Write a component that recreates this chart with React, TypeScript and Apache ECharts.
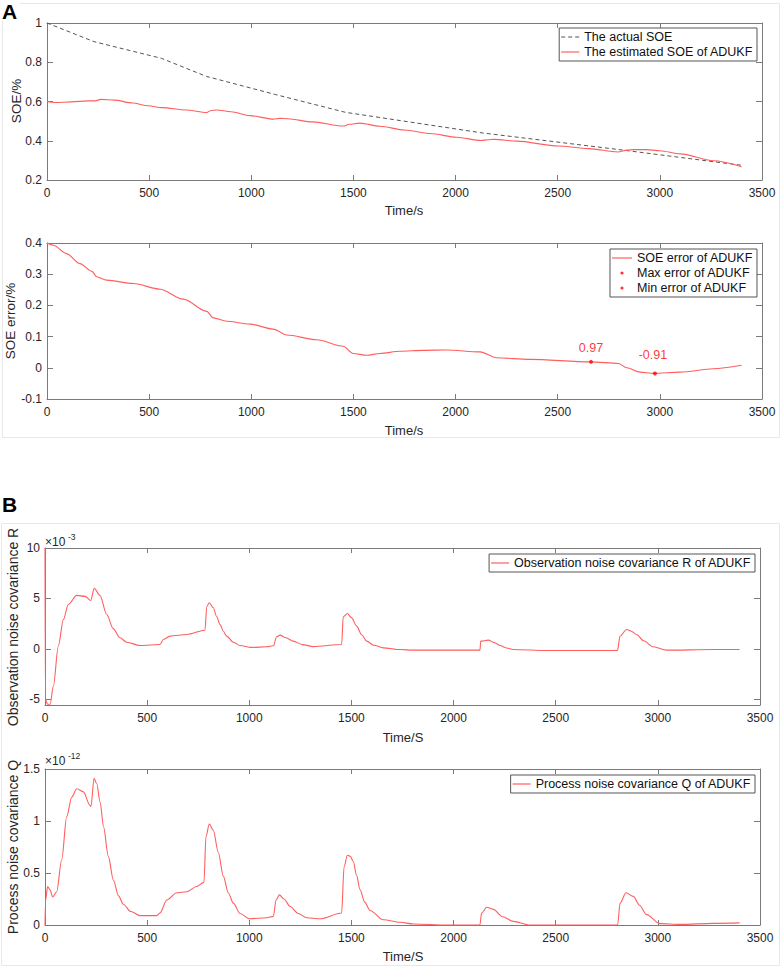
import React, { useEffect, useRef } from "react";
import * as echarts from "echarts";

const FONT = "'Liberation Sans', Arial, Helvetica, sans-serif";
const RED = "#ff5e5e";
const GRAY_DASH = "#555555";
const AX = "#7a7a7a";
const TXT = "#262626";

// ---------- X axis ----------
const xTickLabels = [0, 500, 1000, 1500, 2000, 2500, 3000, 3500];

// ---------- Panel A, top: SOE ----------
const soeTime = [0, 230, 560, 780, 1120, 1460, 2130, 2800, 3400];
const soeActual = [1.0, 0.905, 0.82, 0.728, 0.635, 0.545, 0.44, 0.355, 0.275];

const estTime = [0, 40, 120, 200, 235, 265, 330, 420, 495, 562, 680, 782, 800, 830, 900, 994, 1108, 1140, 1180, 1300, 1450, 1480, 1530, 1630, 1750, 1875, 2005, 2125, 2160, 2190, 2300, 2503, 2650, 2795, 2840, 2870, 2935, 3000, 3100, 3262, 3400];
const estSoe = [0.600, 0.595, 0.598, 0.603, 0.603, 0.611, 0.607, 0.592, 0.578, 0.569, 0.557, 0.544, 0.553, 0.557, 0.548, 0.528, 0.510, 0.514, 0.512, 0.496, 0.475, 0.484, 0.490, 0.474, 0.455, 0.437, 0.418, 0.401, 0.405, 0.407, 0.398, 0.373, 0.360, 0.343, 0.352, 0.355, 0.355, 0.349, 0.333, 0.298, 0.268];
const soeTicks = [0.2, 0.4, 0.6, 0.8, 1];

// ---------- Panel A, bottom: SOE error ----------
const errTime = [0, 31, 96, 161, 219, 243, 292, 423, 553, 667, 782, 814, 880, 994, 1108, 1173, 1320, 1450, 1499, 1565, 1630, 1728, 1842, 1956, 2120, 2201, 2364, 2661, 2797, 2838, 2903, 2968, 3099, 3262, 3400];
const errVal = [0.4, 0.393, 0.366, 0.334, 0.31, 0.292, 0.281, 0.27, 0.252, 0.22, 0.181, 0.16, 0.149, 0.14, 0.124, 0.105, 0.09, 0.069, 0.046, 0.04, 0.046, 0.053, 0.056, 0.057, 0.051, 0.032, 0.027, 0.019, 0.014, 0.0, -0.014, -0.018, -0.014, -0.003, 0.008];
const maxErrPoint = [2663, 0.019];
const minErrPoint = [2976, -0.018];
const maxErrLabel = "0.97";
const minErrLabel = "-0.91";
const errTicks = [-0.1, 0, 0.1, 0.2, 0.3, 0.4];

// ---------- Panel B, top: R (x 1e-3) ----------
const rTime = [0, 2, 12, 25, 41, 65, 90, 114, 155, 196, 224, 241, 269, 302, 334, 367, 400, 465, 563, 579, 612, 694, 783, 792, 804, 824, 840, 857, 873, 889, 922, 955, 1010, 1085, 1118, 1134, 1150, 1180, 1215, 1260, 1313, 1452, 1460, 1480, 1500, 1526, 1550, 1575, 1610, 1656, 1738, 1803, 2129, 2133, 2170, 2200, 2227, 2260, 2292, 2456, 2802, 2815, 2847, 2870, 2896, 2930, 2978, 3043, 3271, 3400];
const rVal = [10, -5, -5.5, -5.5, -3.7, 0.26, 2.9, 4.4, 5.3, 5.2, 4.8, 6.0, 5.3, 3.4, 2.0, 1.1, 0.65, 0.33, 0.43, 0.93, 1.26, 1.42, 1.85, 4.2, 4.57, 4.07, 3.2, 2.4, 1.75, 1.26, 0.66, 0.33, 0.14, 0.2, 0.3, 1.2, 1.36, 1.1, 0.76, 0.42, 0.22, 0.43, 3.2, 3.5, 3.1, 2.25, 1.4, 0.76, 0.35, 0.1, -0.07, -0.13, -0.13, 0.76, 0.86, 0.62, 0.33, 0.08, -0.07, -0.17, -0.17, 1.26, 1.92, 1.75, 1.42, 0.8, 0.2, -0.13, -0.07, -0.07];
const rTicks = [-5, 0, 5, 10];

// ---------- Panel B, bottom: Q (x 1e-12) ----------
const qTime = [0, 3, 13, 24, 38, 57, 82, 106, 131, 155, 188, 220, 225, 240, 253, 270, 286, 310, 335, 360, 383, 420, 465, 547, 563, 596, 645, 694, 742, 778, 788, 804, 824, 848, 873, 897, 922, 955, 1000, 1085, 1118, 1131, 1147, 1170, 1199, 1240, 1281, 1346, 1452, 1464, 1480, 1495, 1509, 1525, 1542, 1565, 1591, 1656, 1738, 1803, 1966, 2129, 2137, 2162, 2195, 2240, 2292, 2374, 2803, 2815, 2844, 2880, 2910, 2945, 3010, 3108, 3271, 3400];
const qVal = [0, 0.24, 0.37, 0.34, 0.27, 0.32, 0.63, 1.04, 1.23, 1.31, 1.28, 1.15, 1.14, 1.41, 1.36, 1.18, 0.95, 0.66, 0.43, 0.28, 0.2, 0.13, 0.09, 0.09, 0.115, 0.24, 0.31, 0.32, 0.37, 0.41, 0.85, 0.97, 0.91, 0.7, 0.47, 0.31, 0.21, 0.11, 0.06, 0.07, 0.083, 0.24, 0.29, 0.25, 0.18, 0.11, 0.07, 0.06, 0.115, 0.56, 0.67, 0.66, 0.61, 0.48, 0.34, 0.22, 0.14, 0.05, 0.026, 0.01, 0, 0, 0.115, 0.17, 0.15, 0.08, 0.035, 0, 0, 0.21, 0.31, 0.275, 0.19, 0.1, 0.013, 0.006, 0.016, 0.02];
const qTicks = [0, 0.5, 1, 1.5];

const zip = (a: number[], b: number[]) => a.map((t, i) => [t, b[i]]);

type GridBox = { left: number; top: number; width: number; height: number };
const grids: GridBox[] = [
  { left: 47, top: 23, width: 715, height: 157 },
  { left: 47, top: 243, width: 715, height: 156 },
  { left: 45, top: 548, width: 715, height: 157 },
  { left: 45, top: 769, width: 715, height: 156 },
];
const yRanges = [
  { min: 0.2, max: 1, ticks: soeTicks },
  { min: -0.1, max: 0.4, ticks: errTicks },
  { min: -5.57, max: 10, ticks: rTicks },
  { min: 0, max: 1.5, ticks: qTicks },
];

function buildAxes() {
  const xAxis: any[] = [];
  const yAxis: any[] = [];
  grids.forEach((_, gi) => {
    const base = {
      gridIndex: gi,
      type: "value",
      axisLine: { show: true, onZero: false, lineStyle: { color: AX, width: 1 } },
      splitLine: { show: false },
    };
    xAxis.push({
      ...base,
      position: "bottom",
      min: 0,
      max: 3500,
      axisTick: { show: true, inside: true, length: 5, lineStyle: { color: AX }, customValues: xTickLabels },
      axisLabel: {
        show: true,
        margin: 7,
        color: TXT,
        fontSize: 12,
        fontFamily: FONT,
        customValues: xTickLabels,
        formatter: (v: number) => String(v),
      },
    });
    xAxis.push({
      ...base,
      position: "top",
      min: 0,
      max: 3500,
      axisTick: { show: true, inside: true, length: 5, lineStyle: { color: AX }, customValues: xTickLabels },
      axisLabel: { show: false },
    });
    const yr = yRanges[gi];
    yAxis.push({
      ...base,
      position: "left",
      min: yr.min,
      max: yr.max,
      axisTick: { show: true, inside: true, length: 6, lineStyle: { color: AX }, customValues: yr.ticks },
      axisLabel: {
        show: true,
        margin: 5,
        color: TXT,
        fontSize: 12,
        fontFamily: FONT,
        customValues: yr.ticks,
        formatter: (v: number) => String(v),
      },
    });
    yAxis.push({
      ...base,
      position: "right",
      min: yr.min,
      max: yr.max,
      axisTick: { show: true, inside: true, length: 6, lineStyle: { color: AX }, customValues: yr.ticks },
      axisLabel: { show: false },
    });
  });
  return { xAxis, yAxis };
}

const DOT_ICON = "path://M0 0M10 10M5 3A2 2 0 1 1 5 7A2 2 0 1 1 5 3Z";
const LINE_ICON_18 = "path://M0 0H18V1.2H0Z";
const LINE_ICON_20 = "path://M0 0H20V1.2H0Z";
const DASH_ICON_18 = "path://M0 0H4V1.1H0ZM7 0H11V1.1H7ZM14 0H18V1.1H14Z";

function legendBase(right: number, top: number, names: any[], itemWidth: number) {
  return {
    show: true,
    orient: "vertical",
    right,
    top,
    data: names,
    itemWidth,
    itemHeight: 8,
    itemGap: 1,
    padding: [2, 4, 2, 2],
    borderColor: "#555555",
    borderWidth: 1,
    borderRadius: 0,
    backgroundColor: "#ffffff",
    selectedMode: false,
    textStyle: { color: "#111111", fontSize: 12.5, fontFamily: FONT, lineHeight: 14 },
  };
}

function txt(x: number, y: number, text: string, fontSize: number, opts: any = {}) {
  return {
    type: "text",
    x,
    y,
    rotation: opts.rotation || 0,
    silent: true,
    z: 100,
    style: {
      text,
      fill: opts.fill || TXT,
      fontSize,
      fontFamily: FONT,
      fontWeight: opts.fontWeight || "normal",
      align: opts.align || "center",
      verticalAlign: opts.verticalAlign || "middle",
      textAlign: opts.align || "center",
      textVerticalAlign: opts.verticalAlign || "middle",
    },
  };
}

export default function App() {
  const ref = useRef<HTMLDivElement>(null);
  useEffect(() => {
    if (!ref.current) return;
    const chart = echarts.init(ref.current, undefined, { renderer: "svg" });
    const { xAxis, yAxis } = buildAxes();

    const lineCommon = { type: "line", symbol: "none", showSymbol: false, silent: true };
    const smoothCommon = { smooth: 0.3, smoothMonotone: "x" };

    const option: any = {
      animation: false,
      backgroundColor: "#ffffff",
      grid: grids.map((g) => ({ ...g, show: false })),
      xAxis,
      yAxis,
      legend: [
        legendBase(25, 28, [
          { name: "The actual SOE", icon: DASH_ICON_18 },
          { name: "The estimated SOE of ADUKF", icon: LINE_ICON_18 },
        ], 18),
        legendBase(25, 249, [
          { name: "SOE error of ADUKF", icon: LINE_ICON_20 },
          { name: "Max error of ADUKF", icon: DOT_ICON },
          { name: "Min error of ADUKF", icon: DOT_ICON },
        ], 20),
        legendBase(27, 554, [{ name: "Observation noise covariance R of ADUKF", icon: LINE_ICON_18 }], 18),
        legendBase(27, 775, [{ name: "Process noise covariance Q of ADUKF", icon: LINE_ICON_18 }], 18),
      ],
      series: [
        {
          ...lineCommon,
          name: "The actual SOE",
          xAxisIndex: 0,
          yAxisIndex: 0,
          data: zip(soeTime, soeActual),
          lineStyle: { color: GRAY_DASH, width: 1, type: [4, 3] },
          itemStyle: { color: GRAY_DASH },
        },
        {
          ...lineCommon,
          ...smoothCommon,
          name: "The estimated SOE of ADUKF",
          xAxisIndex: 0,
          yAxisIndex: 0,
          data: zip(estTime, estSoe),
          lineStyle: { color: RED, width: 1.1 },
          itemStyle: { color: RED },
        },
        {
          ...lineCommon,
          ...smoothCommon,
          name: "SOE error of ADUKF",
          xAxisIndex: 2,
          yAxisIndex: 2,
          data: zip(errTime, errVal),
          lineStyle: { color: RED, width: 1.1 },
          itemStyle: { color: RED },
        },
        {
          type: "scatter",
          name: "Max error of ADUKF",
          xAxisIndex: 2,
          yAxisIndex: 2,
          silent: true,
          symbol: "circle",
          symbolSize: 4,
          itemStyle: { color: "#ff0000" },
          data: [
            {
              value: maxErrPoint,
              label: {
                show: true,
                position: "top",
                distance: 5,
                formatter: maxErrLabel,
                color: "#ff0000",
                fontSize: 12.5,
                fontFamily: FONT,
              },
            },
          ],
          z: 5,
        },
        {
          type: "scatter",
          name: "Min error of ADUKF",
          xAxisIndex: 2,
          yAxisIndex: 2,
          silent: true,
          symbol: "circle",
          symbolSize: 4,
          itemStyle: { color: "#ff0000" },
          data: [
            {
              value: minErrPoint,
              label: {
                show: true,
                position: "top",
                distance: 10,
                offset: [-2, 0],
                formatter: minErrLabel,
                color: "#ff0000",
                fontSize: 12.5,
                fontFamily: FONT,
              },
            },
          ],
          z: 5,
        },
        {
          ...lineCommon,
          ...smoothCommon,
          name: "Observation noise covariance R of ADUKF",
          xAxisIndex: 4,
          yAxisIndex: 4,
          data: zip(rTime, rVal),
          lineStyle: { color: RED, width: 1.1 },
          itemStyle: { color: RED },
        },
        {
          ...lineCommon,
          ...smoothCommon,
          name: "Process noise covariance Q of ADUKF",
          xAxisIndex: 6,
          yAxisIndex: 6,
          data: zip(qTime, qVal),
          lineStyle: { color: RED, width: 1.1 },
          itemStyle: { color: RED },
        },
      ],
      graphic: [
        {
          type: "rect",
          silent: true,
          z: 0,
          shape: { x: 2.5, y: 3.5, width: 777, height: 434 },
          style: { fill: "none", stroke: "#e8e8e8", lineWidth: 1 },
        },
        {
          type: "rect",
          silent: true,
          z: 0,
          shape: { x: 1.5, y: 523.5, width: 778, height: 442 },
          style: { fill: "none", stroke: "#e8e8e8", lineWidth: 1 },
        },
        {
          type: "rect",
          silent: true,
          z: 1,
          shape: { x: 0, y: 0, width: 20, height: 21 },
          style: { fill: "#ffffff" },
        },
        txt(2, 11, "A", 21, { fontWeight: "bold", align: "left", fill: "#000000" }),
        txt(2, 504, "B", 21, { fontWeight: "bold", align: "left", fill: "#000000" }),
        // x titles
        txt(404, 210, "Time/s", 13),
        txt(404, 430, "Time/s", 13),
        txt(403, 737, "Time/S", 13),
        txt(403, 956, "Time/S", 13),
        // y titles
        txt(16, 101, "SOE/%", 13.5, { rotation: Math.PI / 2 }),
        txt(10, 321, "SOE error/%", 13.5, { rotation: Math.PI / 2 }),
        txt(13, 627, "Observation noise covariance R", 14, { rotation: Math.PI / 2 }),
        txt(13, 847, "Process noise covariance Q", 14, { rotation: Math.PI / 2 }),
        // exponents
        txt(45, 542, "×10", 12, { align: "left" }),
        txt(68, 537, "-3", 8.5, { align: "left" }),
        txt(45, 761, "×10", 12, { align: "left" }),
        txt(68, 756, "-12", 8.5, { align: "left" }),
      ],
    };

    chart.setOption(option);
    return () => {
      chart.dispose();
    };
  }, []);

  return (
    <div
      ref={ref}
      style={{ position: "absolute", left: 0, top: 0, width: 782, height: 968, background: "#ffffff" }}
    />
  );
}
